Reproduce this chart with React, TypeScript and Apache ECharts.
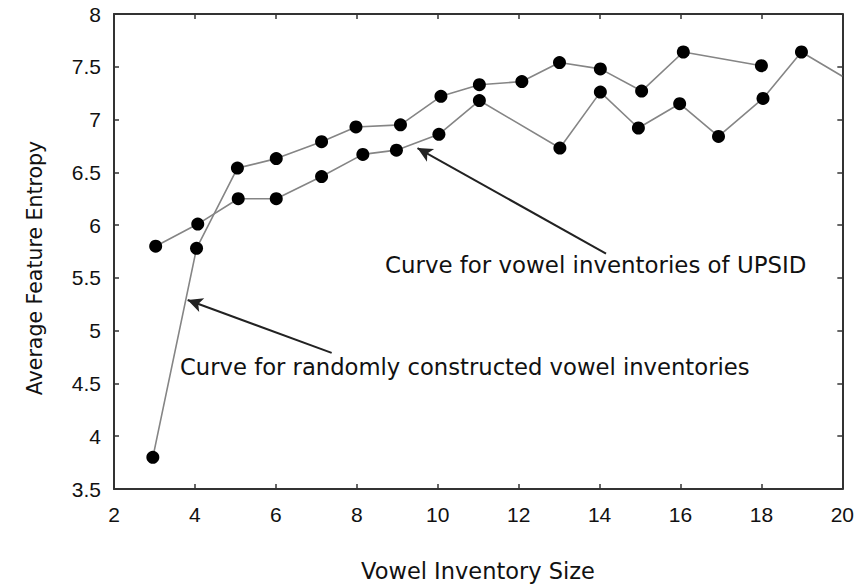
import React, { useEffect, useRef } from "react";
import * as echarts from "echarts";

// Curve for randomly constructed vowel inventories
const randomX = [2.96, 4.04, 5.05, 6.01, 7.13, 7.98, 9.08, 10.08, 11.03, 12.08, 13.01, 14.02, 15.04, 16.07, 18.0];
const randomY = [3.8, 5.78, 6.54, 6.63, 6.79, 6.93, 6.95, 7.22, 7.33, 7.36, 7.54, 7.48, 7.27, 7.64, 7.51];

// Curve for vowel inventories of UPSID
const upsidX = [3.03, 4.07, 5.07, 6.01, 7.13, 8.15, 8.98, 10.03, 11.03, 13.02, 14.02, 14.96, 15.98, 16.94, 18.04, 18.99, 20];
const upsidY = [5.8, 6.01, 6.25, 6.25, 6.46, 6.67, 6.71, 6.86, 7.18, 6.73, 7.26, 6.92, 7.15, 6.84, 7.2, 7.64, 7.41];
// the last UPSID point sits on the right frame and shows no marker
const upsidHiddenMarker = [false, false, false, false, false, false, false, false, false, false, false, false, false, false, false, false, true];

// annotation arrows (data coordinates): tail -> head
const arrowTails = [[14.16, 5.73], [7.38, 4.79]];
const arrowHeads = [[9.5, 6.73], [3.82, 5.29]];

const xTicks = { min: 2, max: 20, interval: 2 };
const yTicks = { min: 3.5, max: 8, interval: 0.5 };

const labelUpsid = "Curve for vowel inventories of UPSID";
const labelRandom = "Curve for randomly constructed vowel inventories";
const xTitle = "Vowel Inventory Size";
const yTitle = "Average Feature Entropy";

export default function App() {
  const ref = useRef<HTMLDivElement>(null);
  useEffect(() => {
    if (!ref.current) return;
    const chart = echarts.init(ref.current, null, { renderer: "svg" });
    const frame = { lineStyle: { color: "#333", width: 2 } };
    const tickStyle = { inside: true, length: 5, lineStyle: { color: "#333", width: 1.5 } };
    const labelFont = { fontFamily: "Liberation Sans", fontSize: 21, color: "#111" };
    const annFont = "DejaVu Sans";
    chart.setOption({
      animation: false,
      backgroundColor: "#fff",
      grid: { left: 114, right: 9, top: 14, bottom: 97, containLabel: false },
      xAxis: [
        {
          type: "value", position: "bottom", ...xTicks,
          axisLine: { show: true, onZero: false, ...frame },
          axisTick: tickStyle,
          splitLine: { show: false },
          axisLabel: { ...labelFont, margin: 15 },
        },
        {
          type: "value", position: "top", ...xTicks,
          axisLine: { show: true, onZero: false, ...frame },
          axisTick: tickStyle,
          splitLine: { show: false },
          axisLabel: { show: false },
        },
      ],
      yAxis: [
        {
          type: "value", position: "left", ...yTicks,
          axisLine: { show: true, onZero: false, ...frame },
          axisTick: tickStyle,
          splitLine: { show: false },
          axisLabel: { ...labelFont, margin: 13 },
        },
        {
          type: "value", position: "right", ...yTicks,
          axisLine: { show: true, onZero: false, ...frame },
          axisTick: tickStyle,
          splitLine: { show: false },
          axisLabel: { show: false },
        },
      ],
      series: [
        {
          name: "Random",
          type: "line",
          xAxisIndex: 0,
          yAxisIndex: 0,
          data: randomX.map((x, i) => [x, randomY[i]]),
          symbol: "circle",
          symbolSize: 13,
          itemStyle: { color: "#000" },
          lineStyle: { color: "#858585", width: 1.6 },
          markLine: {
            silent: true,
            animation: false,
            symbol: ["none", "arrow"],
            symbolSize: [11, 15],
            label: { show: false },
            lineStyle: { color: "#222", width: 2, type: "solid" },
            data: arrowTails.map((t, i) => [
              { coord: t },
              { coord: arrowHeads[i] },
            ]),
          },
        },
        {
          name: "UPSID",
          type: "line",
          xAxisIndex: 0,
          yAxisIndex: 0,
          data: upsidX.map((x, i) =>
            upsidHiddenMarker[i]
              ? { value: [x, upsidY[i]], symbolSize: 0 }
              : [x, upsidY[i]]
          ),
          symbol: "circle",
          symbolSize: 13,
          itemStyle: { color: "#000" },
          lineStyle: { color: "#858585", width: 1.6 },
        },
      ],
      graphic: [
        {
          type: "text", x: 385, y: 265,
          style: { text: labelUpsid, fontFamily: annFont, fontSize: 22.9, fill: "#111", align: "left", verticalAlign: "middle" },
        },
        {
          type: "text", x: 180, y: 367,
          style: { text: labelRandom, fontFamily: annFont, fontSize: 22.7, fill: "#111", align: "left", verticalAlign: "middle" },
        },
        {
          type: "text", x: 478, y: 571,
          style: { text: xTitle, fontFamily: annFont, fontSize: 22.5, fill: "#111", align: "center", verticalAlign: "middle" },
        },
        {
          type: "text", x: 35, y: 268, rotation: Math.PI / 2,
          style: { text: yTitle, fontFamily: annFont, fontSize: 20.5, fill: "#111", align: "center", verticalAlign: "middle" },
        },
      ],
    });
    return () => chart.dispose();
  }, []);
  return (
    <div
      ref={ref}
      style={{ position: "fixed", left: 0, top: 0, width: 857, height: 586, background: "#fff" }}
    />
  );
}
